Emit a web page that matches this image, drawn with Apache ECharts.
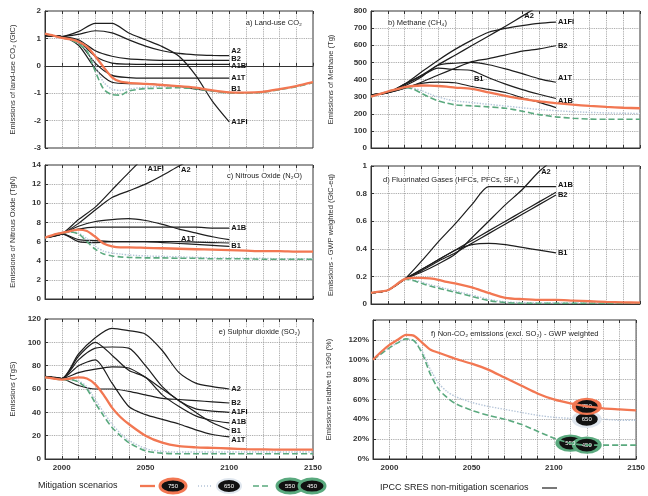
<!DOCTYPE html>
<html><head><meta charset="utf-8">
<script src="https://cdn.jsdelivr.net/npm/echarts@6/dist/echarts.min.js"></script>
<style>html,body{margin:0;padding:0;background:#fff}#c{width:648px;height:496px}</style>
</head><body><div id="c"></div>
<script>
// ---------------- DATA ----------------
const S_YEARS = [1990,2000,2010,2020,2030,2040,2050,2060,2070,2080,2090,2100];
const M_YEARS = [1990,1995,2000,2005,2010,2015,2020,2025,2030,2035,2040,2050,2060,2070,2080,2090,2100,2110,2120,2130,2140,2150];
const X_TICK_LABELS = [2000,2050,2100,2150];
const MIT_LABELS = ['750','650','550','450'];

// a) Land-use CO2 (GtC)
const a_orange = [1.17,1.1,1.02,0.97,0.88,0.7,0.35,-0.05,-0.42,-0.58,-0.62,-0.66,-0.7,-0.74,-0.8,-0.9,-0.97,-0.98,-0.95,-0.85,-0.74,-0.6];
const a_blue   = [1.17,1.1,1.02,0.96,0.85,0.55,0.0,-0.6,-0.85,-0.9,-0.85,-0.78,-0.76,-0.77,-0.82,-0.91,-0.98,-0.99,-0.96,-0.86,-0.75,-0.61];
const a_green  = [1.17,1.1,1.02,0.95,0.8,0.55,-0.2,-0.85,-1.05,-1.07,-0.92,-0.83,-0.82,-0.8,-0.84,-0.92,-0.99,-1.0,-0.97,-0.87,-0.76,-0.62];
const a_A2   = [1.1,1.07,1.15,1.28,1.2,0.95,0.72,0.55,0.45,0.4,0.38,0.37];
const a_B2   = [1.1,1.07,0.95,0.55,0.35,0.25,0.22,0.2,0.2,0.2,0.2,0.2];
const a_A1B  = [1.1,1.07,0.9,0.35,0.1,0.06,0.05,0.05,0.05,0.05,0.05,0.05];
const a_A1T  = [1.1,1.07,0.85,0.1,-0.35,-0.43,-0.45,-0.45,-0.45,-0.45,-0.45,-0.45];
const a_B1   = [1.1,1.07,0.75,-0.1,-0.6,-0.65,-0.65,-0.7,-0.75,-0.85,-0.92,-0.98];
const a_A1FI = [1.1,1.07,1.25,1.55,1.55,1.2,0.95,0.7,0.35,-0.35,-1.3,-2.05];

// b) Methane (Tg)
const b_orange = [300,315,330,342,355,362,365,364,362,358,353,345,325,305,287,272,262,253,246,240,235,232];
const b_blue   = [300,315,330,342,353,350,335,315,298,285,275,265,255,245,235,225,218,212,208,205,203,202];
const b_green  = [300,315,330,342,352,345,320,295,275,262,252,246,240,232,215,195,182,174,169,168,168,168];
const b_A2   = [310,323,370,424,486,542,598,654,711,770,829,889];
const b_A1FI = [310,323,373,444,513,576,630,676,699,715,728,735];
const b_B2   = [310,323,349,384,426,466,504,522,544,566,579,597];
const b_A1T  = [310,323,362,415,483,495,500,486,462,434,404,384];
const b_A1B  = [310,323,373,421,466,458,452,410,373,341,314,289];
const b_B1   = [310,323,349,377,385,381,359,342,324,293,266,236];

// c) Nitrous oxide (TgN)
const c_orange = [6.4,6.7,6.9,7.1,7.25,7.1,6.5,5.8,5.5,5.4,5.4,5.35,5.3,5.25,5.2,5.15,5.1,5.05,5.0,5.0,4.95,4.95];
const c_blue   = [6.4,6.7,6.9,7.0,6.9,6.3,5.5,5.0,4.8,4.7,4.6,4.5,4.45,4.4,4.35,4.3,4.3,4.25,4.25,4.2,4.2,4.2];
const c_green  = [6.4,6.7,6.9,7.0,6.8,6.0,5.2,4.7,4.5,4.4,4.35,4.3,4.3,4.25,4.25,4.2,4.2,4.2,4.15,4.15,4.15,4.15];
const c_A1FI = [6.4,6.8,8.3,9.6,11.4,13.2,14.9,16.0,16.5,16.7,16.8,16.9];
const c_A2   = [6.4,6.8,7.9,9.3,10.6,11.3,12.0,12.9,13.9,14.8,15.7,16.5];
const c_A1B  = [6.4,6.8,7.3,7.5,7.5,7.5,7.5,7.5,7.5,7.5,7.4,7.4];
const c_B2   = [6.4,6.8,7.6,8.1,8.3,8.4,8.2,7.8,7.3,6.9,6.5,6.2];
const c_A1T  = [6.4,6.8,6.0,5.9,6.0,6.0,6.0,6.0,6.0,5.95,5.9,5.85];
const c_B1   = [6.4,6.8,6.2,6.1,6.0,6.0,6.0,5.9,5.8,5.7,5.6,5.5];

// d) Fluorinated gases (GtC-eq)
const d_orange = [0.08,0.09,0.10,0.14,0.18,0.19,0.19,0.185,0.175,0.16,0.15,0.12,0.08,0.045,0.035,0.03,0.03,0.025,0.02,0.015,0.012,0.01];
const d_blue   = [0.08,0.09,0.10,0.14,0.18,0.175,0.16,0.14,0.125,0.11,0.095,0.065,0.035,0.015,0.01,0.008,0.008,0.008,0.008,0.008,0.008,0.008];
const d_green  = [0.08,0.09,0.10,0.14,0.18,0.17,0.15,0.13,0.115,0.10,0.085,0.055,0.025,0.01,0.005,0.005,0.005,0.005,0.005,0.005,0.005,0.005];
const d_A2   = [0.08,0.10,0.18,0.23,0.29,0.36,0.48,0.60,0.72,0.83,0.96,1.06];
const d_A1B  = [0.08,0.10,0.18,0.31,0.45,0.58,0.72,0.85,0.85,0.85,0.85,0.85];
const d_B2   = [0.08,0.10,0.18,0.25,0.32,0.39,0.46,0.53,0.60,0.67,0.74,0.81];
const d_A1T  = [0.08,0.10,0.18,0.24,0.31,0.37,0.44,0.51,0.58,0.65,0.72,0.79];
const d_B1   = [0.08,0.10,0.18,0.25,0.32,0.39,0.43,0.44,0.43,0.41,0.39,0.37];

// e) Sulphur dioxide (TgS)
const e_orange = [70,69,68,69,70,69,64,55,44,36,30,20,14,11,10,9.5,9,8.5,8.2,8,8,8];
const e_blue   = [70,69,68,68,67,62,51,40,30,22,16,9,6.5,6,6,6,6,6,6,6,6,6];
const e_green  = [70,69,68,68,66,60,48,37,27,20,14,7,5,4.5,4.5,4.5,4.5,4.5,4.5,4.5,4.5,4.5];
const e_A2   = [70.9,69,90,104,112,110,107,93,74,65,62,60];
const e_B2   = [70.9,69,63,60,60,58,55,52,51,50,49,48];
const e_A1FI = [70.9,69,85,95,96,95,80,62,50,43,41,40];
const e_A1B  = [70.9,69,88,100,89,76,70,55,45,37,33,31];
const e_B1   = [70.9,69,74,77,79,78,70,60,50,40,31,25];
const e_A1T  = [70.9,69,80,85,65,45,38,34,30,25,21,19];

// f) Non-CO2 emissions, GWP weighted (% of 1990)
const f_orange = [100,108,115,120,125,124,117,110,107,104,101,96,90,82,74,66,60,56,53,51,50,49];
const f_blue   = [100,106,112,117,121,119,108,90,76,68,63,57,53,50,47,44,42,41,40,40,39,39];
const f_green  = [100,106,112,117,121,119,106,85,70,62,56,49,44,40,35,28,21,16,14,14,14,14];

// ---------------- LAYOUT / STYLE ----------------
const FONT = 'Liberation Sans, Arial, sans-serif';
const ORANGE = '#f27752', BLUE = '#b4c4d8', GREEN = '#5aa97e', BLACK = '#1e1e1e';

const panels = [
  {grid:{left:45,top:11,width:268,height:137}, y:{min:-3,max:2,interval:1}, yName:'Emissions of land-use CO\u2082 (GtC)', nameGap:28,
   title:'a) Land-use CO\u2082', tx:302, ty:23, ta:'right', bottom:false,
   mit:[a_orange,a_blue,a_green],
   sres:[['A2',a_A2,11,-5],['B2',a_B2,11,-1],['A1B',a_A1B,11,2],['A1T',a_A1T,11,0],['B1',a_B1,11,-4],['A1FI',a_A1FI,11,0]]},
  {grid:{left:371,top:11,width:269,height:137}, y:{min:0,max:800,interval:100}, yName:'Emissions of Methane (Tg)', nameGap:36,
   title:'b) Methane (CH\u2084)', tx:388, ty:23, ta:'left', bottom:false,
   mit:[b_orange,b_blue,b_green],
   sres:[['A2',b_A2,9,0],['A1FI',b_A1FI,11,0],['B2',b_B2,11,0],['A1T',b_A1T,11,-4],['A1B',b_A1B,11,2],['B1',b_B1,6,-8]]},
  {grid:{left:45,top:165,width:268,height:134}, y:{min:0,max:14,interval:2}, yName:'Emissions of Nitrous Oxide (TgN)', nameGap:28,
   title:'c) Nitrous Oxide (N\u2082O)', tx:302, ty:176, ta:'right', bottom:false,
   mit:[c_orange,c_blue,c_green],
   sres:[['A1FI',c_A1FI,6,4],['A2',c_A2,8,4],['A1B',c_A1B,11,0],['B2',c_B2,11,null],['A1T',c_A1T,8,-3],['B1',c_B1,11,0]]},
  {grid:{left:371,top:166,width:269,height:138}, y:{min:0,max:1,interval:0.2}, yName:'Emissions - GWP weighted (GtC-eq)', nameGap:36,
   title:'d) Fluorinated Gases (HFCs, PFCs, SF\u2086)', tx:383, ty:180, ta:'left', bottom:false,
   mit:[d_orange,d_blue,d_green],
   sres:[['A2',d_A2,10,0],['A1B',d_A1B,11,-2],['B2',d_B2,11,3],['A1T',d_A1T,11,null],['B1',d_B1,11,0]]},
  {grid:{left:45,top:319,width:268,height:140}, y:{min:0,max:120,interval:20}, yName:'Emissions (TgS)', nameGap:28,
   title:'e) Sulphur dioxide (SO\u2082)', tx:300, ty:332, ta:'right', bottom:true,
   mit:[e_orange,e_blue,e_green],
   sres:[['A2',e_A2,11,0],['B2',e_B2,11,0],['A1FI',e_A1FI,11,0],['A1B',e_A1B,11,-1],['B1',e_B1,11,1],['A1T',e_A1T,11,3]]},
  {grid:{left:373,top:320,width:267,height:139}, y:{min:0,max:140,interval:20}, yName:'Emissions relative to 1990 (%)', nameGap:40,
   title:'f) Non-CO\u2082 emissions (excl. SO\u2082) - GWP weighted', tx:431, ty:334, ta:'left', bottom:true, pct:true,
   mit:[f_orange,f_blue,f_green], sres:[]}
];

const grids=[], xAxes=[], yAxes=[], series=[];
const N = panels.length;
panels.forEach((p,i)=>{
  grids.push(Object.assign({show:true, borderColor:'#333', borderWidth:1, containLabel:false}, p.grid));
  xAxes.push({gridIndex:i, type:'value', min:1990, max:2150, interval:10,
    axisLine:{show:true, lineStyle:{color:'#333'}},
    axisTick:{show:true, inside:true, length:3, lineStyle:{color:'#333'}},
    splitLine:{show:true, lineStyle:{color:'#9a9a9a', type:'dotted', width:0.9}},
    axisLabel:{show:p.bottom, fontFamily:FONT, fontSize:8, fontWeight:'bold', color:'#333', margin:5,
      formatter:v=>X_TICK_LABELS.includes(v)?String(v):''}});
  yAxes.push({gridIndex:i, type:'value', min:p.y.min, max:p.y.max, interval:p.y.interval,
    name:p.yName, nameLocation:'middle', nameGap:p.nameGap, nameRotate:90,
    nameTextStyle:{fontFamily:FONT, fontSize:7.5, color:'#333'},
    axisLine:{show:true, lineStyle:{color:'#333'}},
    axisTick:{show:true, inside:true, length:3, lineStyle:{color:'#333'}},
    splitLine:{show:true, lineStyle:{color:'#9a9a9a', type:'dotted', width:0.9}},
    axisLabel:{fontFamily:FONT, fontSize:8, fontWeight:'bold', color:'#333', margin:4,
      formatter:v=>{
        if(p.pct) return v>=140?'':Math.round(v)+'%';
        if(p.y.interval<1) return (v===0||v===1)?String(v):v.toFixed(1);
        return String(v);
      }}});
  p.sres.forEach(([name,vals,li,dy])=>{
    const s={type:'line', name:name, xAxisIndex:i, yAxisIndex:i, symbol:'none', z:3, smooth:0.25,
      data:S_YEARS.map((x,k)=>[x,vals[k]]), lineStyle:{color:BLACK, width:1.2}, silent:true};
    if(dy!==null){
      s.markPoint={symbol:'circle', symbolSize:0, silent:true, animation:false,
        data:[{coord:[S_YEARS[li], Math.min(vals[li], p.y.max)]}],
        label:{show:true, position:'right', distance:2, offset:[0,dy], formatter:name,
          fontFamily:FONT, fontSize:7.5, fontWeight:'bold', color:'#111'}};
    }
    series.push(s);
  });
  const [mo,mb,mg]=p.mit;
  const mk=(vals,color,type,width,z)=>({type:'line', xAxisIndex:i, yAxisIndex:i, symbol:'none', z:z, silent:true, smooth:0.25,
    data:M_YEARS.map((x,k)=>[x,vals[k]]), lineStyle:{color:color, width:width, type:type}});
  const sb=mk(mb,BLUE,'dotted',1.4,4), sg=mk(mg,GREEN,[6,3],1.6,5), so=mk(mo,ORANGE,'solid',2.3,6);
  if(p.pct){
    const ell=(vals,idx,txt,border)=>({coord:[M_YEARS[idx], vals[idx]], value:txt,
      itemStyle:{color:'#111', borderColor:border, borderWidth:3}});
    const lab={show:true, position:'inside', color:'#fff', fontFamily:FONT, fontSize:6, formatter:'{c}'};
    so.markPoint={symbol:'circle', symbolSize:[26,15], silent:true, animation:false, label:lab,
      data:[ell(mo,18,MIT_LABELS[0],ORANGE)]};
    sb.markPoint={symbol:'circle', symbolSize:[26,15], silent:true, animation:false, label:lab,
      data:[ell(mb,18,MIT_LABELS[1],'#dfe6ee')]};
    sg.markPoint={symbol:'circle', symbolSize:[26,15], silent:true, animation:false, label:lab,
      data:[ell(mg,17,MIT_LABELS[2],GREEN), ell(mg,18,MIT_LABELS[3],GREEN)]};
  }
  series.push(sb,sg,so);
});
// top ticks on each panel
panels.forEach((p,i)=>{
  xAxes.push({gridIndex:i, type:'value', position:'top', min:1990, max:2150, interval:10,
    axisLine:{show:false}, axisLabel:{show:false}, splitLine:{show:false},
    axisTick:{show:true, inside:true, length:3, lineStyle:{color:'#333'}}});
});

const graphic=[];
panels.forEach(p=>{
  graphic.push({type:'text', x:p.tx, y:p.ty, z:10, style:{text:p.title, textAlign:p.ta, textVerticalAlign:'middle',
    fontFamily:FONT, fontSize:7.5, fill:'#222', backgroundColor:'#fff'}});
});
// legend (bottom)
const LY=486;
graphic.push(
  {type:'text', x:38, y:LY, style:{text:'Mitigation scenarios', textVerticalAlign:'middle', fontFamily:FONT, fontSize:9, fill:'#222'}},
  {type:'line', shape:{x1:140,y1:LY,x2:155,y2:LY}, style:{stroke:ORANGE, lineWidth:2.3}},
  {type:'ellipse', shape:{cx:173,cy:LY,rx:13,ry:7}, style:{fill:'#111', stroke:ORANGE, lineWidth:3}},
  {type:'text', x:173, y:LY, z:11, style:{text:MIT_LABELS[0], textAlign:'center', textVerticalAlign:'middle', fontFamily:FONT, fontSize:6, fill:'#fff'}},
  {type:'line', shape:{x1:198,y1:LY,x2:212,y2:LY}, style:{stroke:BLUE, lineWidth:1.4, lineDash:[1,2]}},
  {type:'ellipse', shape:{cx:229,cy:LY,rx:12,ry:7}, style:{fill:'#111', stroke:'#dfe6ee', lineWidth:2}},
  {type:'text', x:229, y:LY, z:11, style:{text:MIT_LABELS[1], textAlign:'center', textVerticalAlign:'middle', fontFamily:FONT, fontSize:6, fill:'#fff'}},
  {type:'line', shape:{x1:253,y1:LY,x2:268,y2:LY}, style:{stroke:GREEN, lineWidth:1.6, lineDash:[6,3]}},
  {type:'ellipse', shape:{cx:290,cy:LY,rx:13,ry:7}, style:{fill:'#111', stroke:GREEN, lineWidth:3}},
  {type:'ellipse', shape:{cx:312,cy:LY,rx:13,ry:7}, style:{fill:'#111', stroke:GREEN, lineWidth:3}},
  {type:'text', x:290, y:LY, z:11, style:{text:MIT_LABELS[2], textAlign:'center', textVerticalAlign:'middle', fontFamily:FONT, fontSize:6, fill:'#fff'}},
  {type:'text', x:312, y:LY, z:11, style:{text:MIT_LABELS[3], textAlign:'center', textVerticalAlign:'middle', fontFamily:FONT, fontSize:6, fill:'#fff'}},
  {type:'text', x:380, y:LY+2, style:{text:'IPCC SRES non-mitigation scenarios', textVerticalAlign:'middle', fontFamily:FONT, fontSize:9, fill:'#222'}},
  {type:'line', shape:{x1:542,y1:LY+2,x2:557,y2:LY+2}, style:{stroke:BLACK, lineWidth:1.2}}
);

const chart=echarts.init(document.getElementById('c'),null,{renderer:'canvas'});
chart.setOption({animation:false, backgroundColor:'#fff', grid:grids, xAxis:xAxes, yAxis:yAxes, series:series, graphic:graphic});
</script></body></html>
